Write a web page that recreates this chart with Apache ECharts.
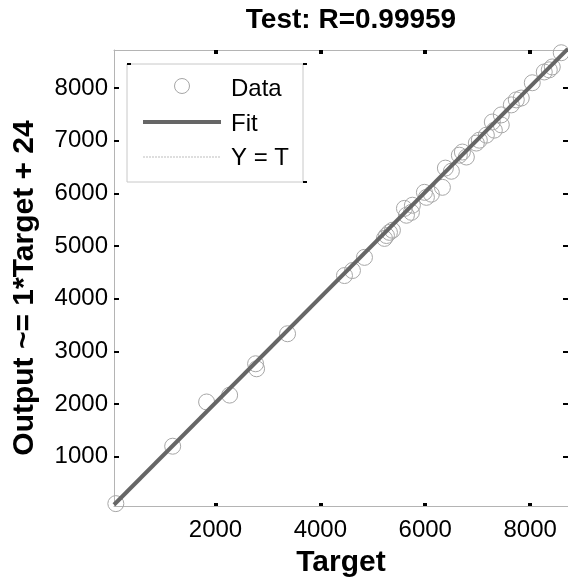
<!DOCTYPE html>
<html>
<head>
<meta charset="utf-8">
<script src="https://cdn.jsdelivr.net/npm/echarts@6/dist/echarts.min.js"></script>
<style>html,body{margin:0;padding:0;background:#fff;}#c{width:568px;height:583px;}</style>
</head>
<body>
<div id="c"></div>
<script>
const titleText = 'Test: R=0.99959';
const xName = 'Target';
const yName = 'Output ~= 1*Target + 24';
const axisMin = 65;
const axisMax = 8722;
const xTicks = [2000, 4000, 6000, 8000];
const yTicks = [1000, 2000, 3000, 4000, 5000, 6000, 7000, 8000];
const fitSlope = 1;
const fitIntercept = 24;
const targets = [60, 100, 1184, 1831, 2270, 2765, 2784, 3374, 4460, 4612, 4841, 5222, 5260, 5317, 5374, 5603, 5641, 5736, 5755, 6022, 5984, 6117, 6327, 6384, 6498, 6650, 6708, 6784, 6974, 7031, 7165, 7317, 7279, 7450, 7450, 7641, 7736, 7831, 8041, 8269, 8365, 8422, 8593];
const outputs = [70, 110, 1200, 2040, 2170, 2765, 2670, 3335, 4440, 4535, 4785, 5145, 5200, 5260, 5300, 5715, 5585, 5640, 5775, 5925, 6020, 5985, 6115, 6480, 6420, 6725, 6785, 6690, 6955, 7010, 7105, 7200, 7355, 7300, 7490, 7680, 7775, 7810, 8100, 8305, 8345, 8400, 8670];

const font = 'Liberation Sans';
const chart = echarts.init(document.getElementById('c'), null, {renderer: 'canvas'});
const pts = targets.map((t, i) => [t, outputs[i]]);
const fitLine = [axisMin, axisMax].map(x => [x, fitSlope * x + fitIntercept]);
const idLine = [axisMin, axisMax].map(x => [x, x]);
const axisLineStyle = {color: '#b4b4b4', width: 1};
const plain = v => String(Math.round(v));
const legendX = 127, legendY = 64, legendW = 176, legendH = 118;

chart.setOption({
  animation: false,
  title: {
    text: titleText, left: 346, top: 1, textAlign: 'center',
    textStyle: {fontFamily: font, fontSize: 28, fontWeight: 'bold', color: '#000'}
  },
  grid: {left: 114, right: -1, top: 50, bottom: 77, containLabel: false},
  xAxis: [{
    type: 'value', position: 'bottom', min: axisMin, max: axisMax,
    name: xName, nameLocation: 'middle', nameGap: 42,
    nameTextStyle: {fontFamily: font, fontSize: 30, fontWeight: 'bold', color: '#000'},
    axisLine: {show: true, lineStyle: axisLineStyle},
    axisTick: {show: true, inside: true, length: 3, customValues: xTicks, lineStyle: {color: '#000', width: 4}},
    axisLabel: {customValues: xTicks, formatter: plain, margin: 12, fontFamily: font, fontSize: 24, color: '#000'},
    splitLine: {show: false}
  }, {
    type: 'value', position: 'top', min: axisMin, max: axisMax,
    axisLine: {show: true, lineStyle: axisLineStyle},
    axisTick: {show: true, inside: true, length: 4, customValues: xTicks, lineStyle: {color: '#000', width: 4}},
    axisLabel: {show: false}, splitLine: {show: false}
  }],
  yAxis: [{
    type: 'value', position: 'left', min: axisMin, max: axisMax,
    name: yName, nameLocation: 'middle', nameGap: 74, nameRotate: 90,
    nameTextStyle: {fontFamily: font, fontSize: 30, fontWeight: 'bold', color: '#000', padding: [0, 20, 0, 0]},
    axisLine: {show: true, lineStyle: axisLineStyle},
    axisTick: {show: true, inside: true, length: 5, customValues: yTicks, lineStyle: {color: '#000', width: 2}},
    axisLabel: {customValues: yTicks, formatter: plain, margin: 6, fontFamily: font, fontSize: 24, color: '#000'},
    splitLine: {show: false}
  }, {
    type: 'value', position: 'right', min: axisMin, max: axisMax,
    axisLine: {show: true, lineStyle: axisLineStyle},
    axisTick: {show: true, inside: true, length: 5, customValues: yTicks, lineStyle: {color: '#000', width: 2}},
    axisLabel: {show: false}, splitLine: {show: false}
  }],
  series: [{
    name: 'Y = T', type: 'line', data: idLine, showSymbol: false, silent: true,
    lineStyle: {color: '#bdbdbd', width: 1, type: 'dotted'}, z: 1
  }, {
    name: 'Data', type: 'scatter', data: pts, symbol: 'circle', symbolSize: 16,
    itemStyle: {color: 'rgba(255,255,255,0)', borderColor: '#a6a6a6', borderWidth: 1, opacity: 1}, z: 2
  }, {
    name: 'Fit', type: 'line', data: fitLine, showSymbol: false, silent: true,
    lineStyle: {color: '#666666', width: 4}, z: 3
  }],
  graphic: [
    {type: 'rect', shape: {x: legendX, y: legendY, width: legendW, height: legendH},
     style: {fill: '#fff', stroke: '#c8c8c8', lineWidth: 1}, z: 10},
    {type: 'rect', shape: {x: legendX, y: legendY - 1, width: 4, height: 2}, style: {fill: '#000'}, z: 11},
    {type: 'rect', shape: {x: legendX + legendW, y: legendY - 1, width: 4, height: 2}, style: {fill: '#000'}, z: 11},
    {type: 'rect', shape: {x: legendX + legendW, y: legendY + legendH - 1, width: 4, height: 2}, style: {fill: '#000'}, z: 11},
    {type: 'circle', shape: {cx: 182, cy: 86, r: 7.5}, style: {fill: 'none', stroke: '#a6a6a6', lineWidth: 1}, z: 11},
    {type: 'text', x: 231, y: 89, style: {text: 'Data', fontFamily: font, fontSize: 24, fill: '#000', verticalAlign: 'middle'}, z: 11},
    {type: 'line', shape: {x1: 143, y1: 122, x2: 221, y2: 122}, style: {stroke: '#666666', lineWidth: 4}, z: 11},
    {type: 'text', x: 231, y: 124, style: {text: 'Fit', fontFamily: font, fontSize: 24, fill: '#000', verticalAlign: 'middle'}, z: 11},
    {type: 'line', shape: {x1: 143, y1: 157, x2: 221, y2: 157}, style: {stroke: '#bdbdbd', lineWidth: 1, lineDash: [2, 1]}, z: 11},
    {type: 'text', x: 231, y: 158, style: {text: 'Y = T', fontFamily: font, fontSize: 24, fill: '#000', verticalAlign: 'middle'}, z: 11}
  ]
});
</script>
</body>
</html>
